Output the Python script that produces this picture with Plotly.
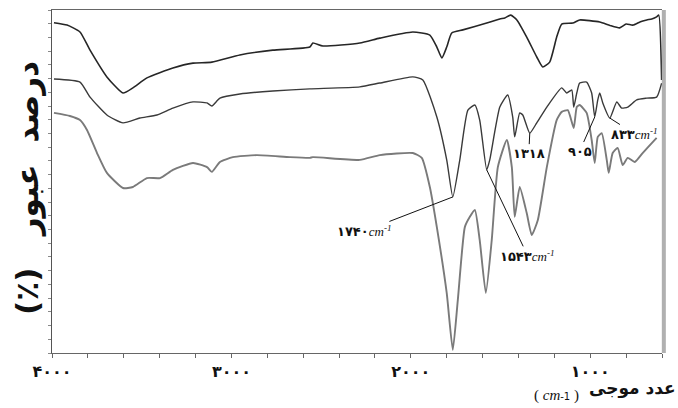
import plotly.graph_objects as go

# ---- data (wavenumber cm-1, transmittance in arbitrary %) ----
wn_top = [3989, 3916, 3844, 3788, 3694, 3604, 3549, 3471, 3326, 3214, 3109, 2953, 2769,
          2563, 2546, 2490, 2284, 2173, 1989, 1894, 1855, 1827, 1800, 1772, 1710, 1577,
          1504, 1476, 1443, 1409, 1354, 1298, 1265, 1226, 1187, 1159, 1097, 1059, 947,
          890, 836, 800, 763, 720, 685, 657, 630, 618, 602]
t_top = [96.3, 95.6, 93.6, 88.3, 80.5, 75.8, 77.3, 80.2, 83.1, 84.5, 84.8, 86.9, 88.3,
         89.2, 90.4, 89.5, 90.4, 91.8, 93.6, 92.7, 89.2, 86.0, 89.2, 93.3, 94.2, 96.2,
         97.4, 97.7, 98.5, 97.1, 92.1, 86.3, 83.4, 84.8, 92.1, 95.9, 96.2, 97.1, 96.5,
         95.5, 94.8, 95.9, 95.6, 96.6, 97.1, 97.4, 98.0, 98.5, 79.6]

wn_mid = [3989, 3844, 3788, 3694, 3604, 3510, 3415, 3326, 3214, 3136, 3109, 3064, 2953,
          2769, 2563, 2284, 2173, 1989, 1933, 1855, 1800, 1766, 1727, 1682, 1643, 1616,
          1577, 1560, 1504, 1460, 1432, 1421, 1393, 1376, 1337, 1298, 1242, 1159, 1131,
          1103, 1092, 1075, 1059, 1020, 992, 975, 958, 947, 930, 891, 852, 825, 791,
          741, 685, 630, 602]
t_mid = [79.9, 79.0, 74.6, 69.4, 67.1, 68.5, 69.4, 71.4, 73.2, 72.9, 72.0, 74.3, 75.5,
         76.4, 77.0, 77.6, 78.7, 80.5, 79.6, 68.8, 56.3, 45.5, 56.3, 70.8, 72.3, 67.9,
         53.4, 56.3, 71.7, 75.2, 68.8, 63.0, 70.0, 69.4, 64.1, 67.1, 71.7, 77.3, 75.8,
         76.7, 71.7, 75.8, 78.7, 79.0, 75.8, 68.8, 73.8, 75.8, 72.9, 68.5, 73.2, 71.4,
         71.7, 73.8, 74.3, 74.6, 78.7]

wn_bot = [3989, 3900, 3844, 3805, 3749, 3694, 3604, 3549, 3471, 3398, 3326, 3214, 3136,
          3109, 3064, 2992, 2858, 2674, 2563, 2546, 2284, 2173, 1989, 1939, 1894, 1855,
          1800, 1766, 1738, 1699, 1671, 1643, 1616, 1582, 1549, 1515, 1465, 1437, 1421,
          1393, 1354, 1326, 1292, 1242, 1187, 1159, 1125, 1092, 1075, 1059, 1020, 992,
          975, 958, 936, 908, 897, 875, 847, 819, 791, 752, 708, 657, 630]
t_bot = [70.0, 69.1, 67.9, 65.0, 58.3, 52.5, 48.1, 48.4, 51.0, 51.0, 53.4, 55.4, 54.2,
         52.8, 55.7, 57.1, 57.7, 57.1, 56.9, 57.1, 56.3, 57.7, 58.3, 56.9, 48.4, 36.7,
         17.5, 0.9, 15.5, 36.7, 39.7, 41.7, 32.9, 17.5, 32.9, 54.2, 62.1, 54.2, 39.7,
         48.4, 40.8, 34.4, 38.8, 54.2, 67.9, 70.3, 70.8, 65.6, 71.7, 72.3, 70.0, 62.1,
         55.4, 63.0, 64.1, 56.3, 52.5, 58.3, 59.8, 54.8, 56.9, 55.7, 58.3, 61.2, 62.7]

x_tick_vals = list(range(600, 4001, 200))
x_tick_major = {1000: "۱۰۰۰", 2000: "۲۰۰۰", 3000: "۳۰۰۰", 4000: "۴۰۰۰"}
x_tick_text = [x_tick_major.get(v, "") for v in x_tick_vals]

# peak labels (pointing at the middle spectrum)
label_wn = [1766, 1577, 1337, 975, 891]
label_t = [45.5, 53.4, 64.1, 68.8, 68.5]
label_num = ["۱۷۴۰", "۱۵۴۳", "۱۳۱۸", "۹۰۵", "۸۳۳"]
label_unit = [True, True, False, False, True]

y_title = "درصد\u00a0\u00a0عبور\u00a0\u00a0\u00a0(٪)"
x_title = "عدد موجی"

RLE, PDF = "\u202b", "\u202c"

fig = go.Figure()
fig.add_trace(go.Scatter(x=wn_bot, y=t_bot, mode="lines",
                         line=dict(color="#7a7a7a", width=1.9, shape="spline", smoothing=0.5),
                         hoverinfo="skip", showlegend=False))
fig.add_trace(go.Scatter(x=wn_mid, y=t_mid, mode="lines",
                         line=dict(color="#3a3a3a", width=1.4, shape="spline", smoothing=0.5),
                         hoverinfo="skip", showlegend=False))
fig.add_trace(go.Scatter(x=wn_top, y=t_top, mode="lines",
                         line=dict(color="#262626", width=1.6, shape="spline", smoothing=0.5),
                         hoverinfo="skip", showlegend=False))

unit_html = ('<span style="font-family:Liberation Serif;font-style:italic;font-weight:normal">cm</span>'
             '<sup><span style="font-family:Liberation Serif;font-style:italic;font-weight:normal">-1</span></sup>')
offsets = [(-88, 34), (41, 86), (-1, 20), (-15, 34), (25, 16)]
for wn, t, num, unit, (ax, ay) in zip(label_wn, label_t, label_num, label_unit, offsets):
    txt = num + (unit_html if unit else "")
    fig.add_annotation(x=wn, y=t, xref="x", yref="y", text=txt, showarrow=True,
                       arrowhead=0, arrowwidth=1, arrowcolor="#111", ax=ax, ay=ay,
                       standoff=0, startstandoff=0,
                       font=dict(family="DejaVu Sans", size=13, color="#111", weight="bold"))

fig.add_annotation(xref="paper", yref="paper", x=-0.04, y=0.48, text=RLE + y_title + PDF,
                   textangle=-90, showarrow=False, xanchor="center", yanchor="middle",
                   font=dict(family="DejaVu Sans", size=31, color="#111", weight="bold"))
fig.add_annotation(xref="paper", yref="paper", x=1.026, y=-0.103, text=x_title,
                   showarrow=False, xanchor="right", yanchor="middle",
                   font=dict(family="DejaVu Sans", size=17, color="#111", weight="bold"))
fig.add_annotation(xref="paper", yref="paper", x=0.868, y=-0.124,
                   text='( <i>cm</i><span style="font-family:DejaVu Sans;font-size:10px">-1</span> )',
                   showarrow=False, xanchor="right", yanchor="middle",
                   font=dict(family="Liberation Serif", size=15, color="#111"))

# thick light-grey right frame
fig.add_shape(type="line", xref="paper", yref="paper", x0=1.003, x1=1.003, y0=0, y1=1,
              line=dict(color="#b0b0b0", width=4))

fig.update_xaxes(range=[4000, 600], tickvals=x_tick_vals, ticktext=x_tick_text,
                 ticks="outside", ticklen=4, tickcolor="#666", showline=True,
                 linecolor="#666", linewidth=1, mirror=True, showgrid=False, zeroline=False,
                 tickfont=dict(family="DejaVu Sans", size=16, color="#111", weight="bold"))
fig.update_yaxes(range=[0, 100], dtick=4, tick0=0, ticks="outside", ticklen=3,
                 tickcolor="#888", showticklabels=False, showline=True, linecolor="#555",
                 linewidth=1, showgrid=False, zeroline=False)

fig.update_layout(width=678, height=408, margin=dict(l=52, r=16, t=10, b=55),
                  paper_bgcolor="white", plot_bgcolor="white")

fig.write_html("out.html", config={"displayModeBar": False},
               post_script="document.body.style.margin='0px';document.body.style.padding='0px';")
